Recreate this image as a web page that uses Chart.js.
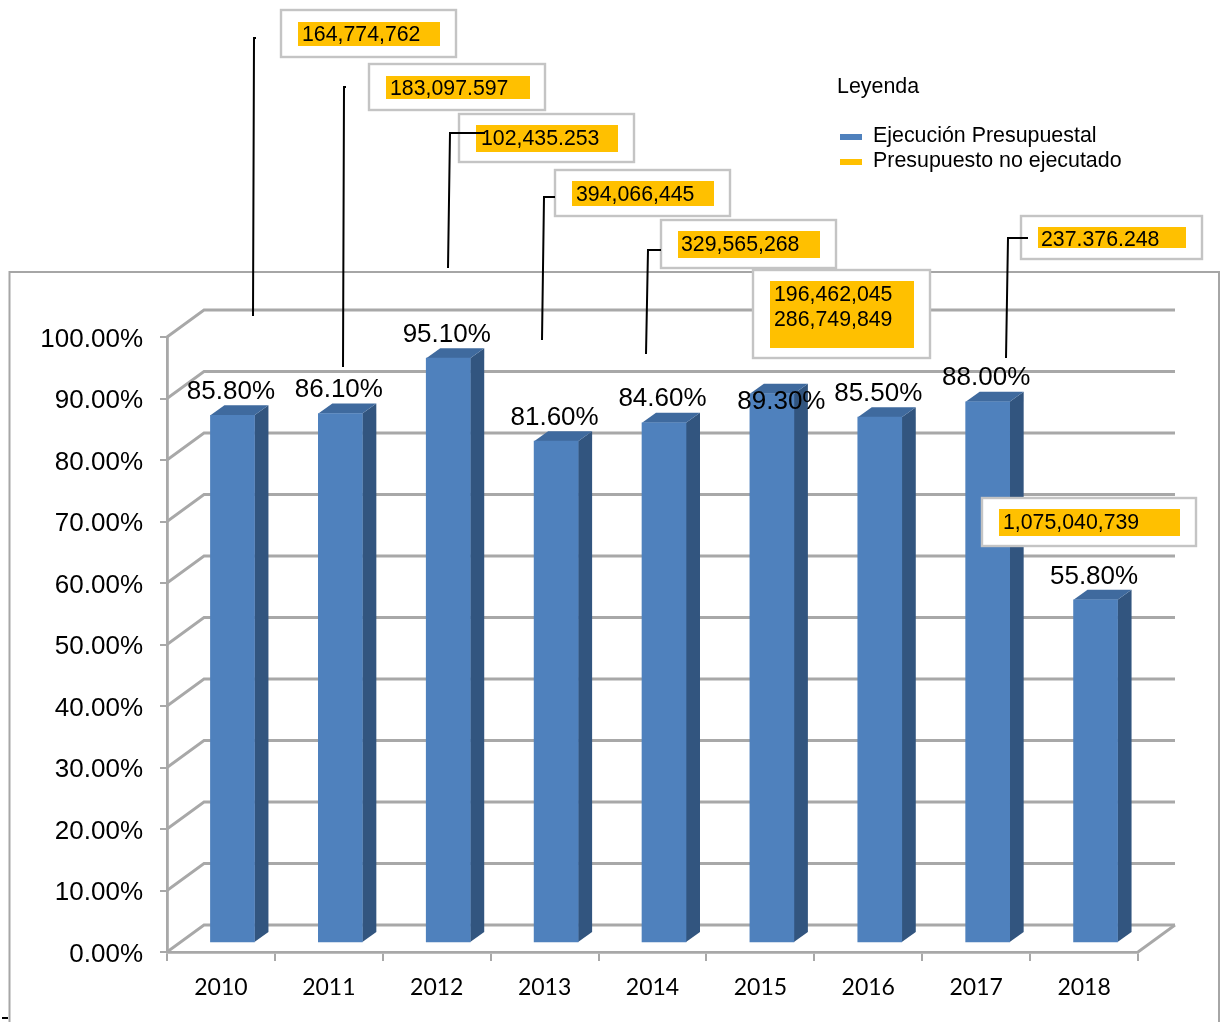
<!DOCTYPE html>
<html>
<head>
  <meta charset="utf-8">
  <title>Ejecución Presupuestal</title>
  <script src="https://cdn.jsdelivr.net/npm/chart.js"></script>
  <style>
    html, body { margin: 0; padding: 0; background: #fff; overflow: hidden; }
    canvas { display: block; filter: blur(0.45px); }
  </style>
</head>
<body>
  <canvas id="chart" width="1223" height="1022"></canvas>

  <script>
    const categories = ['2010', '2011', '2012', '2013', '2014', '2015', '2016', '2017', '2018'];
    const ejecucion = [85.8, 86.1, 95.1, 81.6, 84.6, 89.3, 85.5, 88.0, 55.8];
    const noEjecutado = ['164,774,762', '183,097.597', '102,435.253', '394,066,445', '329,565,268',
      '196,462,045\n286,749,849', '237.376.248', '1,075,040,739'];
    const legendLabels = ['Ejecución Presupuestal', 'Presupuesto no ejecutado'];

    const ARIAL = '"Liberation Sans", Arial, sans-serif';
    const GRID = '#a8a8a8';
    const DEPTH_X = 37, DEPTH_Y = 27;       // back wall offset
    const BAR_SHIFT_X = 11.5, BAR_SHIFT_Y = -9;
    const BAR_DX = 14, BAR_DY = -10;        // bar depth

    // callout boxes, same order as noEjecutado
    const callouts = [
      { box: [281, 10, 175, 47], fill: [298, 22, 142, 24], tx: 302, ty: 35, leader: [[256, 38], [254, 38], [253, 316]] },
      { box: [369, 64, 176, 46], fill: [386, 76, 144, 23], tx: 390, ty: 89, leader: [[346, 87], [344, 87], [343, 367]] },
      { box: [459, 114, 175, 48], fill: [476, 125, 142, 27], tx: 481, ty: 139, leader: [[485, 133], [450, 133], [448, 268]] },
      { box: [555, 170, 175, 46], fill: [572, 181, 142, 25], tx: 576, ty: 195, leader: [[555, 197], [544, 197], [542, 340]] },
      { box: [661, 220, 175, 48], fill: [678, 231, 142, 27], tx: 681, ty: 245, leader: [[661, 250], [648, 250], [646, 354]] },
      { box: [753, 270, 177, 88], fill: [770, 281, 144, 67], tx: 774, ty: 295, leader: null },
      { box: [1021, 216, 181, 43], fill: [1038, 227, 148, 21], tx: 1041, ty: 240, leader: [[1028, 238], [1008, 238], [1006, 358]] },
      { box: [982, 498, 214, 48], fill: [999, 509, 181, 27], tx: 1003, ty: 523, leader: null }
    ];

    const scene = {
      id: 'scene',
      beforeDatasetsDraw(chart) {
        const { ctx, scales: { x, y } } = chart;
        ctx.save();
        // outer frame, runs off the bottom of the page
        ctx.strokeStyle = '#a6a6a6';
        ctx.lineWidth = 2;
        ctx.beginPath();
        ctx.moveTo(9.5, 1022);
        ctx.lineTo(9.5, 272);
        ctx.lineTo(1219, 272);
        ctx.lineTo(1219, 1022);
        ctx.stroke();
        ctx.fillStyle = '#000';
        ctx.fillRect(2, 1017, 6, 2);

        // back wall gridlines with their diagonal on the side wall
        ctx.strokeStyle = GRID;
        ctx.lineWidth = 2.8;
        y.ticks.forEach(t => {
          const py = y.getPixelForValue(t.value);
          ctx.beginPath();
          ctx.moveTo(x.left, py);
          ctx.lineTo(x.left + DEPTH_X, py - DEPTH_Y);
          ctx.lineTo(x.right + DEPTH_X, py - DEPTH_Y);
          ctx.stroke();
        });
        // floor right edge
        ctx.beginPath();
        ctx.moveTo(x.right, y.bottom);
        ctx.lineTo(x.right + DEPTH_X, y.bottom - DEPTH_Y);
        ctx.stroke();
        ctx.restore();
      },
      beforeDatasetDraw(chart, args) {
        const { ctx } = chart;
        ctx.save();
        ctx.translate(BAR_SHIFT_X, BAR_SHIFT_Y);
        chart.getDatasetMeta(args.index).data.forEach(bar => {
          const r = bar.x + bar.width / 2, l = bar.x - bar.width / 2;
          // side face
          ctx.fillStyle = '#32557f';
          ctx.beginPath();
          ctx.moveTo(r, bar.base);
          ctx.lineTo(r + BAR_DX, bar.base + BAR_DY);
          ctx.lineTo(r + BAR_DX, bar.y + BAR_DY);
          ctx.lineTo(r, bar.y);
          ctx.fill();
          // top face
          ctx.fillStyle = '#3f6a9e';
          ctx.beginPath();
          ctx.moveTo(l, bar.y);
          ctx.lineTo(l + BAR_DX, bar.y + BAR_DY);
          ctx.lineTo(r + BAR_DX, bar.y + BAR_DY);
          ctx.lineTo(r, bar.y);
          ctx.fill();
        });
      },
      afterDatasetDraw(chart) {
        chart.ctx.restore();
      },
      afterDraw(chart) {
        const { ctx } = chart;
        ctx.save();
        ctx.textBaseline = 'middle';

        // value labels over the bars
        ctx.fillStyle = '#000';
        ctx.font = '26px ' + ARIAL;
        ctx.textAlign = 'center';
        chart.getDatasetMeta(0).data.forEach((bar, i) => {
          // the 2015 label sits lower and to the right in the original
          const moved = categories[i] === '2015';
          const lx = bar.x + 11 + (moved ? 10 : -1);
          const ly = bar.y + BAR_SHIFT_Y + (moved ? 8 : -23.5);
          ctx.fillText(ejecucion[i].toFixed(2) + '%', lx, ly);
        });

        // callouts
        ctx.textAlign = 'left';
        ctx.font = '21.3px ' + ARIAL;
        callouts.forEach((c, i) => {
          ctx.fillStyle = '#fff';
          ctx.fillRect(c.box[0], c.box[1], c.box[2], c.box[3]);
          ctx.strokeStyle = '#c4c4c4';
          ctx.lineWidth = 2.4;
          ctx.strokeRect(c.box[0], c.box[1], c.box[2], c.box[3]);
          ctx.fillStyle = '#ffc000';
          ctx.fillRect(c.fill[0], c.fill[1], c.fill[2], c.fill[3]);
          ctx.fillStyle = '#000';
          noEjecutado[i].split('\n').forEach((line, n) => ctx.fillText(line, c.tx, c.ty + n * 25));
        });
        ctx.strokeStyle = '#000';
        ctx.lineWidth = 2;
        callouts.forEach(c => {
          if (!c.leader) return;
          ctx.beginPath();
          c.leader.forEach((p, n) => n ? ctx.lineTo(p[0], p[1]) : ctx.moveTo(p[0], p[1]));
          ctx.stroke();
        });

        // legend
        ctx.fillStyle = '#000';
        ctx.font = '21.4px ' + ARIAL;
        ctx.fillText('Leyenda', 837, 87);
        ctx.fillText(legendLabels[0], 873, 136);
        ctx.fillText(legendLabels[1], 873, 161);
        ctx.fillStyle = '#4f81bd';
        ctx.fillRect(840, 134, 22, 6);
        ctx.fillStyle = '#ffc000';
        ctx.fillRect(840, 159, 22, 6);
        ctx.restore();
      }
    };

    new Chart(document.getElementById('chart'), {
      type: 'bar',
      data: {
        labels: categories,
        datasets: [{
          label: legendLabels[0],
          data: ejecucion,
          backgroundColor: '#4f81bd',
          barThickness: 44
        }]
      },
      options: {
        responsive: false,
        animation: false,
        layout: { padding: { top: 337, right: 85, left: 0, bottom: 0 } },
        plugins: { legend: { display: false }, tooltip: { enabled: false } },
        scales: {
          x: {
            afterFit: s => { s.height = 70; },
            border: { color: GRID, width: 2.8 },
            grid: { drawOnChartArea: false, color: GRID, tickLength: 9, lineWidth: 2 },
            ticks: { color: '#000', font: { family: 'Lato', size: 23 }, padding: 13, maxRotation: 0 }
          },
          y: {
            min: 0,
            max: 100,
            afterFit: s => { s.width = 167; },
            border: { color: GRID, width: 2.8 },
            grid: { drawOnChartArea: false, color: GRID, tickLength: 7, lineWidth: 2 },
            ticks: {
              stepSize: 10,
              color: '#000',
              font: { family: 'Liberation Sans', size: 26 },
              padding: 17,
              labelOffset: 2.5,
              callback: v => v.toFixed(2) + '%'
            }
          }
        }
      },
      plugins: [scene]
    });
  </script>
</body>
</html>
